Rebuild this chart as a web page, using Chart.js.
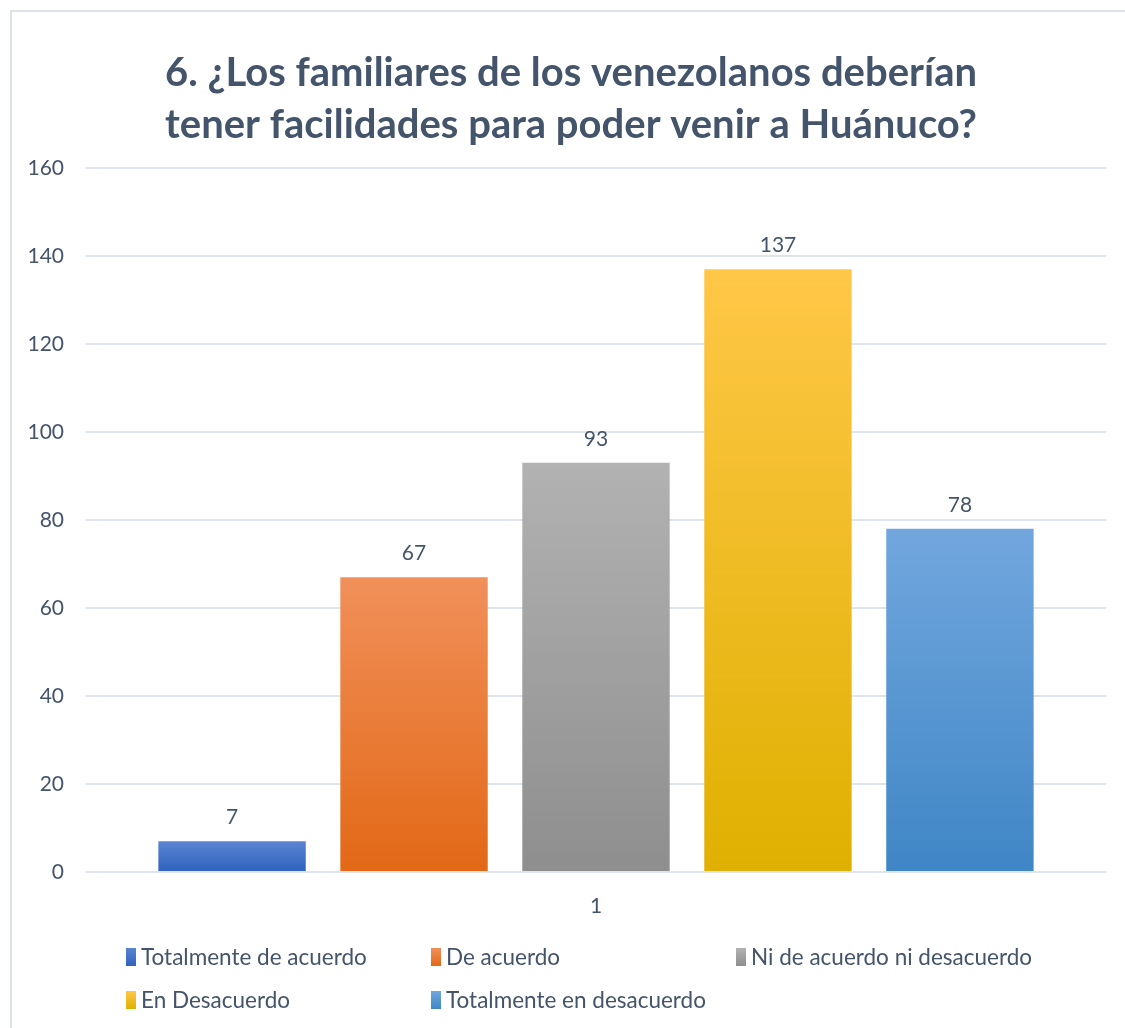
<!DOCTYPE html>
<html>
<head>
<meta charset="utf-8">
<script src="https://cdn.jsdelivr.net/npm/chart.js@4.4.1/dist/chart.umd.min.js"></script>
<style>
  html, body { margin: 0; padding: 0; background: #fff; }
  #wrap { position: relative; width: 1125px; height: 1028px; }
</style>
</head>
<body>
<div id="wrap"><canvas id="myChart" width="1125" height="1028"></canvas></div>
<script>
// data
var categories = ['1'];
var seriesNames = ['Totalmente de acuerdo', 'De acuerdo', 'Ni de acuerdo ni desacuerdo', 'En Desacuerdo', 'Totalmente en desacuerdo'];
var seriesValues = [7, 67, 93, 137, 78];
var yTicks = [0, 20, 40, 60, 80, 100, 120, 140, 160];
var titleLines = ['6. ¿Los familiares de los venezolanos deberían', 'tener facilidades para poder venir a Huánuco?'];

// top / bottom colour of each bar's gradient
var topColors = ['#5b84d2', '#f1905a', '#b2b2b2', '#ffc747', '#72a7de'];
var bottomColors = ['#2f62be', '#e26816', '#8e8e8e', '#dfb000', '#3f86c6'];

var textColor = '#44546A';
var gridColor = '#dfe3ea';
var fontName = 'Lato, "Open Sans", sans-serif';

function barGradient(ctx, i) {
  var chart = ctx.chart;
  if (!chart.chartArea) return topColors[i];
  var y = chart.scales.y;
  var top = y.getPixelForValue(seriesValues[i]);
  var base = y.getPixelForValue(0);
  var g = chart.ctx.createLinearGradient(0, top, 0, base);
  g.addColorStop(0, topColors[i]);
  g.addColorStop(1, bottomColors[i]);
  return g;
}

var datasets = seriesNames.map(function(name, i) {
  return {
    label: name,
    data: [seriesValues[i]],
    backgroundColor: function(ctx) { return barGradient(ctx, i); },
    borderWidth: 0,
    barPercentage: 0.81,
    categoryPercentage: 0.892
  };
});

// frame round the chart, like the office export
var framePlugin = {
  id: 'frame',
  beforeDraw: function(chart) {
    var c = chart.ctx;
    c.save();
    c.strokeStyle = '#dde1e8';
    c.lineWidth = 2;
    c.strokeRect(11, 11, 2000, 2000);
    c.restore();
  }
};

// title sits a bit right of the plot centre in the original
var titleShift = {
  id: 'titleShift',
  afterLayout: function(chart) {
    var t = chart.titleBlock;
    if (t) { t.left += 13; t.right += 13; }
  }
};

// value above every bar
var valueLabels = {
  id: 'valueLabels',
  afterDatasetsDraw: function(chart) {
    var c = chart.ctx;
    c.save();
    c.font = '21px ' + fontName;
    c.fillStyle = textColor;
    c.textAlign = 'center';
    c.textBaseline = 'middle';
    chart.data.datasets.forEach(function(ds, i) {
      var meta = chart.getDatasetMeta(i);
      meta.data.forEach(function(bar, j) {
        c.fillText(ds.data[j], bar.x, bar.y - 24);
      });
    });
    c.restore();
  }
};

// legend in fixed columns, two rows
var columnLegend = {
  id: 'columnLegend',
  afterDraw: function(chart) {
    var c = chart.ctx;
    var cols = [126, 431, 736];
    var rows = [957, 1000];
    c.save();
    c.font = '22.5px ' + fontName;
    c.textBaseline = 'middle';
    chart.data.datasets.forEach(function(ds, i) {
      var x = cols[i % 3];
      var y = rows[Math.floor(i / 3)];
      var g = c.createLinearGradient(0, y - 9, 0, y + 9);
      g.addColorStop(0, topColors[i]);
      g.addColorStop(1, bottomColors[i]);
      c.fillStyle = g;
      c.fillRect(x, y - 9, 10, 18);
      c.fillStyle = textColor;
      c.fillText(ds.label, x + 15, y + 1);
    });
    c.restore();
  }
};

var ctx = document.getElementById('myChart').getContext('2d');
var myChart = new Chart(ctx, {
  type: 'bar',
  data: { labels: categories, datasets: datasets },
  plugins: [framePlugin, titleShift, valueLabels, columnLegend],
  options: {
    responsive: false,
    animation: false,
    layout: { padding: { top: 47, left: 10, right: 19, bottom: 96 } },
    plugins: {
      legend: { display: false },
      tooltip: { enabled: false },
      title: {
        display: true,
        text: titleLines,
        color: textColor,
        font: { family: fontName, size: 40, weight: 'bold', lineHeight: 1.3 },
        padding: { top: 0, bottom: 17 }
      }
    },
    scales: {
      x: {
        grid: { display: false },
        border: { display: false },
        ticks: { color: textColor, font: { family: fontName, size: 21 }, padding: 14 },
        afterFit: function(scale) { scale.height = 60; }
      },
      y: {
        min: 0,
        max: 160,
        afterBuildTicks: function(scale) {
          scale.ticks = yTicks.map(function(v) { return { value: v }; });
        },
        grid: { color: gridColor, lineWidth: 2, drawTicks: false },
        border: { display: false },
        ticks: { color: textColor, font: { family: fontName, size: 21 }, padding: 22 },
        afterFit: function(scale) { scale.width = 76; }
      }
    }
  }
});
</script>
</body>
</html>
